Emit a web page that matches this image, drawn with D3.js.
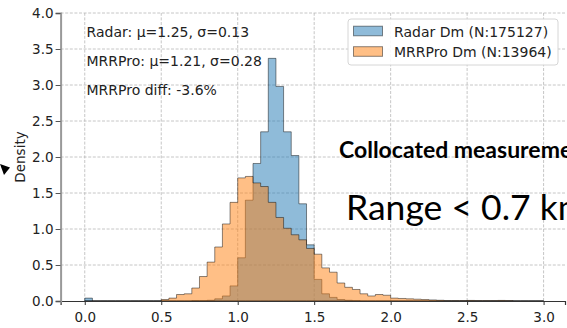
<!DOCTYPE html>
<meta charset="utf-8">
<head>
  <script src="https://d3js.org/d3.v7.min.js"></script>
  <style>
    body { margin: 0; background: #fff; }
    svg { display: block; font-family: "DejaVu Sans", sans-serif; }
  </style>
</head>
<body>
<div id="chart"></div>
<script>

// bins: left edges 0.00, 0.05 ... 2.95 (width 0.05)
var binWidth = 0.05;
var binCount = 60;

// density per bin
var radarDensity = [
  0.04, 0, 0, 0, 0, 0, 0, 0, 0, 0,
  0, 0, 0, 0, 0.005, 0.005, 0.01, 0.03, 0.07, 0.21,
  0.60, 1.40, 1.91, 2.35, 3.37, 2.98, 2.35, 2.02, 1.35, 0.78,
  0.30, 0.10, 0.05, 0.02, 0.01, 0.005, 0, 0, 0, 0,
  0, 0, 0, 0, 0, 0, 0, 0, 0, 0,
  0, 0, 0, 0, 0, 0, 0, 0, 0, 0
];
var mrrDensity = [
  0, 0, 0, 0, 0, 0, 0, 0, 0, 0,
  0.02, 0.04, 0.09, 0.10, 0.18, 0.34, 0.54, 0.75, 1.07, 1.37,
  1.71, 1.73, 1.64, 1.59, 1.37, 1.16, 1.01, 0.92, 0.85, 0.73,
  0.65, 0.46, 0.40, 0.25, 0.19, 0.16, 0.10, 0.07, 0.09, 0.08,
  0.04, 0.035, 0.03, 0.025, 0.02, 0.015, 0.01, 0.005, 0.005, 0.005,
  0.008, 0.005, 0.005, 0.005, 0.008, 0.005, 0, 0, 0, 0
];

var xTicks = [0, 0.5, 1.0, 1.5, 2.0, 2.5, 3.0];
var yTicks = [0, 0.5, 1.0, 1.5, 2.0, 2.5, 3.0, 3.5, 4.0];

var legendLabels = ["Radar Dm (N:175127)", "MRRPro Dm (N:13964)"];
var statLines = ["Radar: μ=1.25, σ=0.13", "MRRPro: μ=1.21, σ=0.28", "MRRPro diff: -3.6%"];

var W = 567, H = 328;

var svg = d3.select("#chart").append("svg")
  .attr("width", W)
  .attr("height", H);

var x = d3.scaleLinear().domain([-0.158, 3.14]).range([60.6, 565]);
var y = d3.scaleLinear().domain([0, 4]).range([301, 13]);

// grid
var grid = svg.append("g");
grid.selectAll(".gx").data(xTicks).enter().append("line")
  .attr("x1", function(d) { return x(d); })
  .attr("x2", function(d) { return x(d); })
  .attr("y1", y(0)).attr("y2", y(4))
  .attr("stroke", "#b8b8b8").attr("stroke-width", 0.8)
  .attr("stroke-dasharray", "3,1.6");
grid.selectAll(".gy").data(yTicks.slice(1)).enter().append("line")
  .attr("x1", x.range()[0]).attr("x2", x.range()[1])
  .attr("y1", function(d) { return y(d); })
  .attr("y2", function(d) { return y(d); })
  .attr("stroke", "#b8b8b8").attr("stroke-width", 0.8)
  .attr("stroke-dasharray", "3,1.6");

// step-filled histograms
function stepPoints(vals) {
  var pts = vals.map(function(v, i) { return [i * binWidth, v]; });
  pts.push([binCount * binWidth, vals[vals.length - 1]]);
  return pts;
}
var area = d3.area()
  .curve(d3.curveStepAfter)
  .x(function(d) { return x(d[0]); })
  .y0(y(0))
  .y1(function(d) { return y(d[1]); });

svg.append("path")
  .attr("d", area(stepPoints(radarDensity)))
  .attr("fill", "#1f77b4").attr("fill-opacity", 0.5)
  .attr("stroke", "#000").attr("stroke-opacity", 0.45).attr("stroke-width", 1);

svg.append("path")
  .attr("d", area(stepPoints(mrrDensity)))
  .attr("fill", "#ff7f0e").attr("fill-opacity", 0.5)
  .attr("stroke", "#000").attr("stroke-opacity", 0.45).attr("stroke-width", 1);

// axes
var xAxis = svg.append("g")
  .attr("transform", "translate(0," + y(0) + ")")
  .call(d3.axisBottom(x).tickValues(xTicks).tickFormat(d3.format(".1f")).tickSizeOuter(0).tickSize(4));
xAxis.select(".domain").attr("stroke", "#333").attr("stroke-width", 1.2);
xAxis.selectAll(".tick line").attr("stroke", "#333");
xAxis.selectAll("text").attr("font-size", 13.5).attr("fill", "#222").attr("dy", "1.05em")
  .attr("font-family", "DejaVu Sans");

var yAxis = svg.append("g")
  .attr("transform", "translate(" + x.range()[0] + ",0)")
  .call(d3.axisLeft(y).tickValues(yTicks).tickFormat(d3.format(".1f")).tickSizeOuter(0).tickSize(5));
yAxis.select(".domain").attr("stroke", "#999").attr("stroke-width", 2);
yAxis.selectAll(".tick line").attr("stroke", "#555");
yAxis.selectAll("text").attr("font-size", 13.5).attr("fill", "#222").attr("x", -7)
  .attr("font-family", "DejaVu Sans");

svg.append("text")
  .attr("transform", "translate(25,157) rotate(-90)")
  .attr("text-anchor", "middle")
  .attr("font-size", 13.5).attr("fill", "#222")
  .text("Density");

// stats text
svg.selectAll(".stat").data(statLines).enter().append("text")
  .attr("x", 86.5)
  .attr("y", function(d, i) { return 37.3 + i * 28.9; })
  .attr("font-size", 14).attr("fill", "#222")
  .text(function(d) { return d; });

// legend
var lg = svg.append("g");
lg.append("rect")
  .attr("x", 348).attr("y", 19).attr("width", 210).attr("height", 46)
  .attr("rx", 3).attr("fill", "#fff").attr("fill-opacity", 0.9)
  .attr("stroke", "#d6d6d6");
var legendColors = ["#1f77b4", "#ff7f0e"];
legendLabels.forEach(function(t, i) {
  lg.append("rect")
    .attr("x", 353.5).attr("y", 26.2 + i * 20.5).attr("width", 29).attr("height", 9.6)
    .attr("fill", legendColors[i]).attr("fill-opacity", 0.5)
    .attr("stroke", "#000").attr("stroke-opacity", 0.45);
  lg.append("text")
    .attr("x", 394).attr("y", 36.5 + i * 20.5)
    .attr("font-size", 14).attr("fill", "#222")
    .text(t);
});

// slide overlays (cut off at the right edge, as in the original slide crop)
svg.append("text")
  .attr("x", 339).attr("y", 157.5)
  .attr("font-family", "Lato, sans-serif").attr("font-weight", "bold")
  .attr("font-size", 23).attr("fill", "#000")
  .text("Collocated measurements");
svg.append("text")
  .attr("x", 346).attr("y", 220)
  .attr("font-family", "Lato, sans-serif")
  .attr("font-size", 35.5).attr("fill", "#000")
  .text("Range < 0.7 km");

svg.append("path")
  .attr("d", "M0,164 L10,167.5 L4,175 Z")
  .attr("fill", "#000");

</script>
</body>
